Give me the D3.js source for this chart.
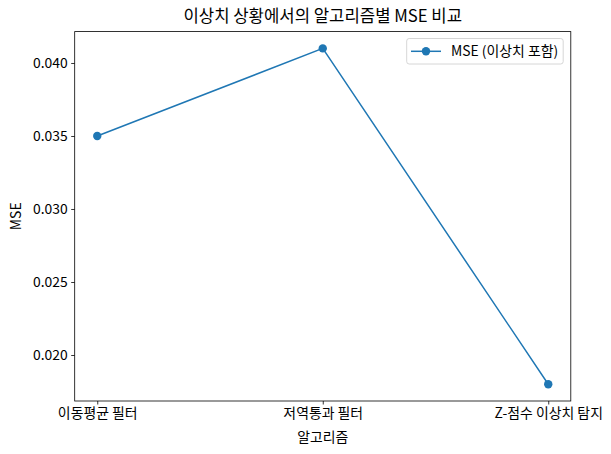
<!DOCTYPE html>
<html><head><meta charset="utf-8">
<script src="https://cdn.jsdelivr.net/npm/d3@7/dist/d3.min.js"></script>
<style>
body{margin:0;background:#fff;}
svg{display:block;font-family:"Noto Sans CJK KR","Noto Sans",sans-serif;}
</style></head>
<body><svg id="c" width="611" height="454"></svg>
<script>
const categories = ["이동평균 필터", "저역통과 필터", "Z-점수 이상치 탐지"];
const mseValues = [0.035, 0.041, 0.018];
const yTicks = [0.020, 0.025, 0.030, 0.035, 0.040];
const seriesName = "MSE (이상치 포함)";
const titleText = "이상치 상황에서의 알고리즘별 MSE 비교";
const xLabel = "알고리즘";
const yLabel = "MSE";

const color = "#1f77b4";
const L = 74.7, R = 570.8, T = 31.6, B = 401;
const svg = d3.select("#c");

const x = d3.scaleLinear().domain([-0.1, 2.1]).range([L, R]);
const yMin = d3.min(mseValues), yMax = d3.max(mseValues);
const pad = (yMax - yMin) * 0.05;
const y = d3.scaleLinear().domain([yMin - pad, yMax + pad]).range([B, T]);

const fs = 13.9;
// axes
const xAxis = d3.axisBottom(x).tickValues(categories.map((d,i)=>i))
  .tickFormat(i => categories[i]).tickSize(3.5).tickPadding(3.5);
const gx = svg.append("g").attr("transform", `translate(0,${B})`).call(xAxis);
const yAxis = d3.axisLeft(y).tickValues(yTicks).tickFormat(d3.format(".3f")).tickSize(3.5).tickPadding(3.5);
const gy = svg.append("g").attr("transform", `translate(${L},0)`).call(yAxis);
[gx, gy].forEach(g => {
  g.select(".domain").remove();
  g.selectAll(".tick line").attr("stroke", "#000").attr("stroke-width", 0.8);
  g.selectAll(".tick text").attr("fill", "#000").style("font-size", fs + "px")
    .style("font-family", '"Noto Sans CJK KR","Noto Sans",sans-serif');
});
gy.selectAll(".tick text").attr("dy", "0.35em");

svg.append("rect").attr("x", L).attr("y", T).attr("width", R - L).attr("height", B - T)
  .attr("fill", "none").attr("stroke", "#000").attr("stroke-width", 0.8);

// line
const line = d3.line().x((d,i)=>x(i)).y(d=>y(d));
svg.append("path").datum(mseValues).attr("d", line).attr("fill", "none")
  .attr("stroke", color).attr("stroke-width", 1.5);
svg.selectAll("circle.pt").data(mseValues).join("circle").attr("class","pt")
  .attr("cx", (d,i)=>x(i)).attr("cy", d=>y(d)).attr("r", 4.2).attr("fill", color);

// title and labels
svg.append("text").attr("x", (L + R) / 2).attr("y", 22).attr("text-anchor", "middle")
  .style("font-size", "16.7px").attr("fill", "#000").text(titleText);
svg.append("text").attr("x", (L + R) / 2).attr("y", 442).attr("text-anchor", "middle")
  .style("font-size", fs + "px").attr("fill", "#000").text(xLabel);
svg.append("text").attr("transform", `translate(21,${(T + B) / 2}) rotate(-90)`)
  .attr("text-anchor", "middle").style("font-size", fs + "px").attr("fill", "#000").text(yLabel);

// legend
const lg = svg.append("g");
lg.append("rect").attr("x", 406.7).attr("y", 38.5).attr("width", 156.5).attr("height", 25.5)
  .attr("rx", 2.5).attr("fill", "#fff").attr("fill-opacity", 0.8).attr("stroke", "#ccc").attr("stroke-width", 0.8);
lg.append("line").attr("x1", 411).attr("x2", 441).attr("y1", 51.3).attr("y2", 51.3)
  .attr("stroke", color).attr("stroke-width", 1.5);
lg.append("circle").attr("cx", 426).attr("cy", 51.3).attr("r", 4.2).attr("fill", color);
lg.append("text").attr("x", 451).attr("y", 51.3).attr("dy", "0.35em")
  .style("font-size", fs + "px").attr("fill", "#000").text(seriesName);
</script></body></html>
